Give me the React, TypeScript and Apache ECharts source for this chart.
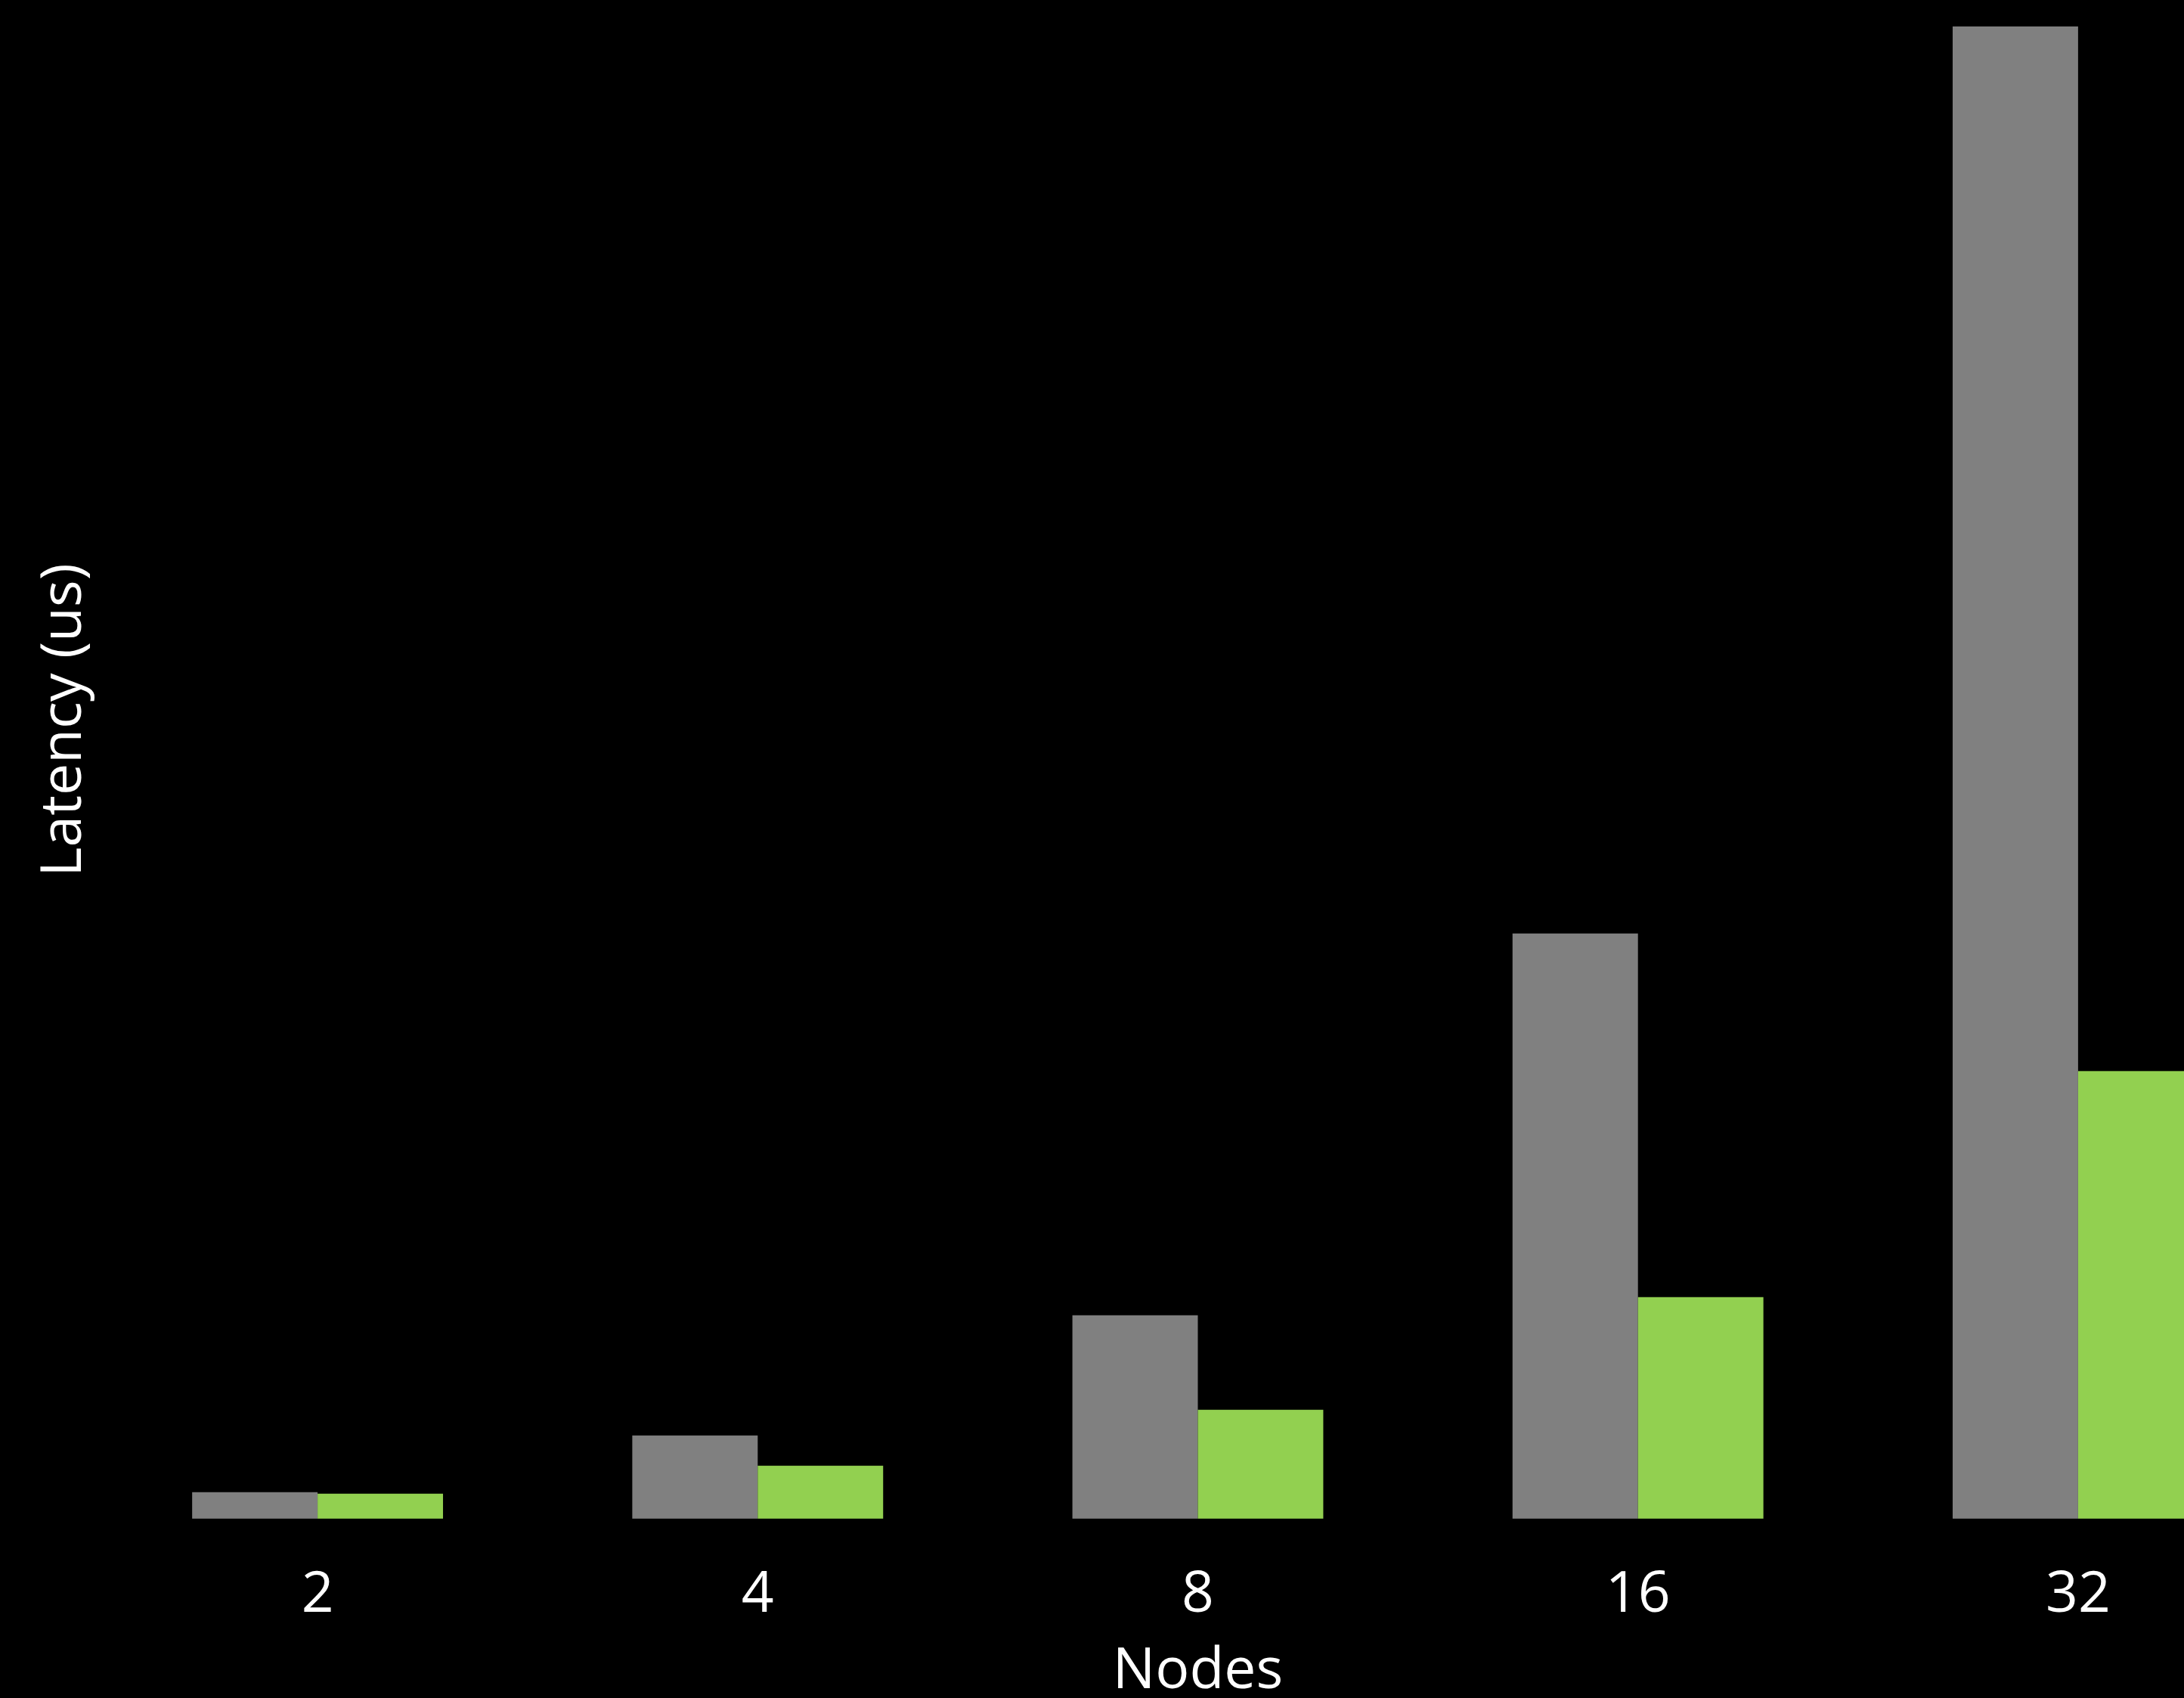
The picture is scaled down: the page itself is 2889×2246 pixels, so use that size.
import React, { useEffect, useRef } from "react";
import * as echarts from "echarts";

const categories = ["2", "4", "8", "16", "32"];
const baselineLatency = [3.5, 11.0, 26.9, 77.4, 197.4];
const improvedLatency = [3.3, 7.0, 14.4, 29.3, 59.2];
const yMax = 211.3;

const FONT = "'Open Sans', 'Noto Sans', sans-serif";
const TEXT = { color: "#ffffff", fontSize: 75, fontFamily: FONT, fontWeight: 400 };

// The plotting area of the original figure extends past the picture's right and top edges,
// so the chart is drawn into a larger box that is clipped by the visible frame.
const OFFSET_TOP = 104;
const INNER_W = 3040;
const INNER_H = 2246 + OFFSET_TOP;

export default function App() {
  const ref = useRef<HTMLDivElement>(null);
  useEffect(() => {
    if (!ref.current) return;
    const chart = echarts.init(ref.current, undefined, { renderer: "svg" });
    chart.setOption({
      animation: false,
      backgroundColor: "#000000",
      grid: { left: 129, right: 0, top: 0, bottom: 237.3, containLabel: false, outerBoundsMode: "none" },
      xAxis: {
        type: "category",
        data: categories,
        axisLine: { show: false },
        axisTick: { show: false },
        axisLabel: { ...TEXT, margin: 57 },
        name: "Nodes",
        nameLocation: "middle",
        nameGap: 158,
        nameTextStyle: { ...TEXT },
      },
      yAxis: {
        type: "value",
        min: 0,
        max: yMax,
        axisLine: { show: false },
        axisTick: { show: false },
        axisLabel: { show: false },
        splitLine: { show: false },
        name: "Latency (us)",
        nameLocation: "middle",
        nameGap: 14,
        nameTextStyle: { ...TEXT },
      },
      series: [
        {
          type: "bar",
          data: baselineLatency,
          itemStyle: { color: "#808080" },
          barGap: "0%",
          barCategoryGap: "43%",
        },
        {
          type: "bar",
          data: improvedLatency,
          itemStyle: { color: "#92d050" },
          barGap: "0%",
          barCategoryGap: "43%",
        },
      ],
    });
    return () => chart.dispose();
  }, []);
  return (
    <div
      style={{
        position: "fixed",
        left: 0,
        top: 0,
        width: 2889,
        height: 2246,
        overflow: "hidden",
        background: "#000000",
      }}
    >
      <div
        ref={ref}
        style={{ position: "absolute", left: 0, top: -OFFSET_TOP, width: INNER_W, height: INNER_H }}
      />
    </div>
  );
}
